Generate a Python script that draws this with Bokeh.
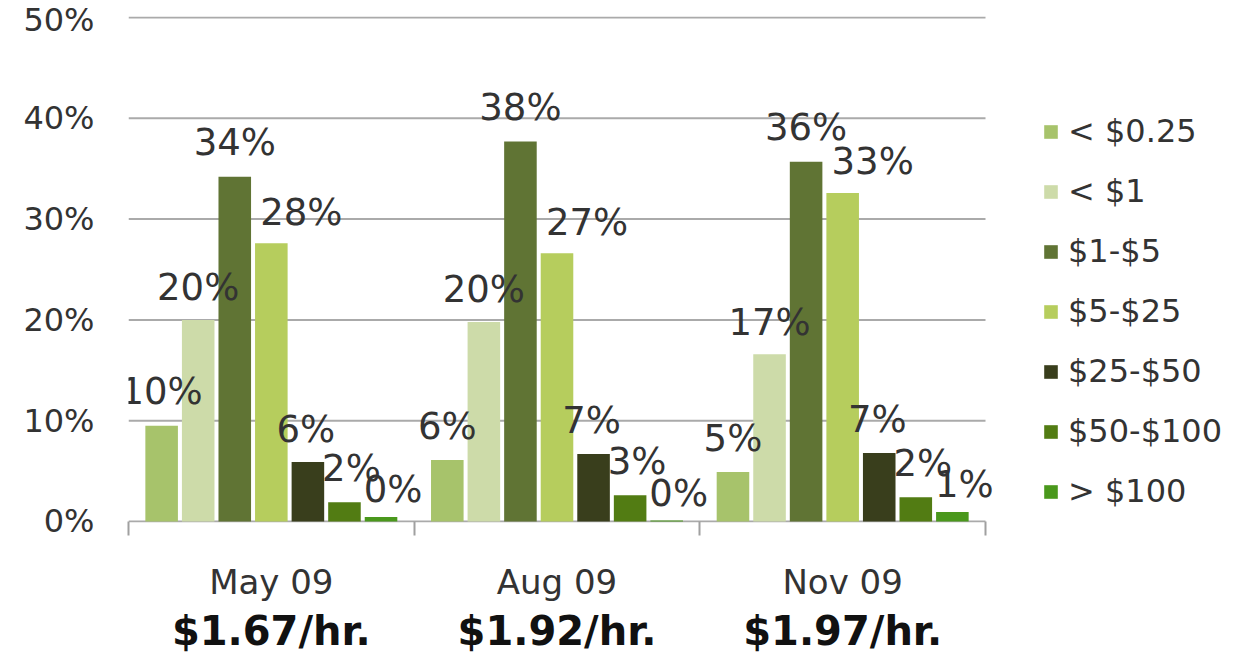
from bokeh.plotting import figure
from bokeh.models import (ColumnDataSource, Range1d, FixedTicker, LinearAxis,
                          Legend, LegendItem)
from bokeh.core.properties import value
from bokeh.embed import file_html
from bokeh.resources import INLINE

# Survey periods and the average hourly rate for each
periods = ["May 09", "Aug 09", "Nov 09"]
rates = ["$1.67/hr.", "$1.92/hr.", "$1.97/hr."]

# Pay buckets (legend order)
buckets = ["< $0.25", "< $1", "$1-$5", "$5-$25", "$25-$50", "$50-$100", "> $100"]

# Share of workers (%) per bucket, one value per period
share_lt_025 = [9.5, 6.1, 4.9]
share_lt_1 = [20.0, 19.8, 16.6]
share_1_5 = [34.2, 37.7, 35.7]
share_5_25 = [27.6, 26.6, 32.6]
share_25_50 = [5.9, 6.7, 6.8]
share_50_100 = [1.9, 2.6, 2.4]
share_gt_100 = [0.45, 0.1, 0.95]

y_ticks = [0, 10, 20, 30, 40, 50]
y_tick_labels = ["0%", "10%", "20%", "30%", "40%", "50%"]

series = [share_lt_025, share_lt_1, share_1_5, share_5_25,
          share_25_50, share_50_100, share_gt_100]
colors = ["#a7c36b", "#cddba9", "#607434", "#b6cd5d",
          "#393e1c", "#527c13", "#4a981c"]
# label nudges (pixels) so neighbouring labels don't collide
label_dx = [0, 0, 0, 30, -2, 7, 12]
label_dy = [34, 32, 34, 31, 33, 34, 27]

FONT = "DejaVu Sans"
TEXT = "#333333"
GRID = "#aaaaaa"

n = len(periods)
# plotting area: groups occupy 128..985 px, the legend sits to the right
LEFT, GROUPS_RIGHT, WIDTH_PX = 128, 985, 1248
RIGHT_BORDER = 2
unit_px = (GROUPS_RIGHT - LEFT) / n
x_end = (WIDTH_PX - RIGHT_BORDER - LEFT) / unit_px

p = figure(width=WIDTH_PX, height=657, output_backend="svg", toolbar_location=None,
           x_range=Range1d(0, x_end), y_range=Range1d(-0.1, 50.1),
           x_axis_type=None, y_axis_type=None,
           min_border_left=LEFT, min_border_right=RIGHT_BORDER,
           min_border_top=16, min_border_bottom=135)
p.outline_line_color = None
p.background_fill_color = "white"
p.border_fill_color = "white"
p.xgrid.visible = False
p.ygrid.visible = False

# horizontal gridlines across the bar groups (the 0% one is the category axis line)
p.segment(x0=[0] * len(y_ticks), x1=[n] * len(y_ticks), y0=y_ticks, y1=y_ticks,
          line_color=GRID, line_width=2, level="underlay")

# y axis: percentages, no line or ticks
yaxis = LinearAxis(ticker=FixedTicker(ticks=y_ticks),
                   major_label_overrides={t: s for t, s in zip(y_ticks, y_tick_labels)})
yaxis.axis_line_color = None
yaxis.major_tick_line_color = None
yaxis.minor_tick_line_color = None
yaxis.major_label_standoff = 28
yaxis.major_label_text_font = FONT
yaxis.major_label_text_font_size = "32px"
yaxis.major_label_text_color = TEXT
p.add_layout(yaxis, "left")

centers = [i + 0.5 for i in range(n)]

# x axis: period names centred on each group, ticks at group boundaries
xaxis = LinearAxis(ticker=FixedTicker(ticks=centers, minor_ticks=list(range(n + 1))),
                   major_label_overrides={c: s for c, s in zip(centers, periods)})
xaxis.axis_line_color = None
xaxis.major_tick_line_color = None
xaxis.major_tick_out = 0
xaxis.major_tick_in = 0
xaxis.minor_tick_line_color = "#a0a0a0"
xaxis.minor_tick_line_width = 2
xaxis.minor_tick_out = 13
xaxis.minor_tick_in = 1
xaxis.major_label_standoff = 26
xaxis.major_label_text_font = FONT
xaxis.major_label_text_font_size = "34px"
xaxis.major_label_text_color = TEXT
p.add_layout(xaxis, "below")

# second row under each period: average hourly rate in bold
rate_axis = LinearAxis(ticker=FixedTicker(ticks=centers, minor_ticks=[]),
                       major_label_overrides={c: s for c, s in zip(centers, rates)})
rate_axis.axis_line_color = None
rate_axis.major_tick_line_color = None
rate_axis.minor_tick_line_color = None
rate_axis.major_tick_out = 0
rate_axis.major_tick_in = 0
rate_axis.major_label_standoff = 3
rate_axis.major_label_text_font = FONT
rate_axis.major_label_text_font_style = "bold"
rate_axis.major_label_text_font_size = "40px"
rate_axis.major_label_text_color = "#111111"
p.add_layout(rate_axis, "below")

STEP = 0.128
WIDTH = 0.114
items = []
for j, (vals, col) in enumerate(zip(series, colors)):
    xs = [c + (j - 3) * STEP for c in centers]
    src = ColumnDataSource(dict(x=xs, top=vals))
    r = p.vbar(x="x", top="top", bottom=0, width=WIDTH, source=src,
               fill_color=col, line_color=None)
    items.append(LegendItem(label=buckets[j], renderers=[r]))

# value labels over the bars
for j, vals in enumerate(series):
    xs = [c + (j - 3) * STEP for c in centers]
    src = ColumnDataSource(dict(x=xs, y=vals,
                                label=[f"{int(v + 0.5)}%" for v in vals]))
    p.text(x="x", y="y", text="label", source=src,
           x_offset=label_dx[j], y_offset=-label_dy[j],
           text_align="center", text_baseline="middle",
           text_font=value(FONT), text_font_size="37px", text_color=TEXT)

legend = Legend(items=items, location=(1042 - LEFT, 11), orientation="vertical",
                padding=0, margin=0, spacing=20,
                glyph_width=17, glyph_height=17, label_height=40,
                label_standoff=9,
                label_text_font=FONT, label_text_font_size="32px",
                label_text_color=TEXT,
                border_line_alpha=0, background_fill_alpha=0)
p.add_layout(legend, "center")

open("out.html", "w").write(file_html(p, INLINE))
